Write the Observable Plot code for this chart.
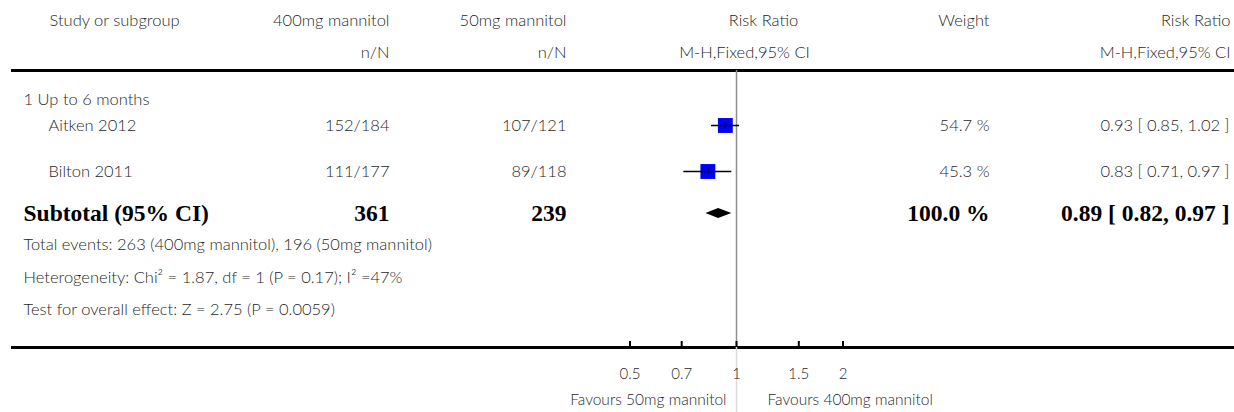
<!DOCTYPE html>
<html><head><meta charset="utf-8">
<script src="https://cdn.jsdelivr.net/npm/d3@7"></script>
<script src="https://cdn.jsdelivr.net/npm/@observablehq/plot@0.6"></script>
<style>html,body{margin:0;padding:0;background:#fff;}</style>
</head><body><div id="chart"></div>
<script>
// ---- data ----
const studies = ["Aitken 2012", "Bilton 2011"];
const events400 = [152, 111];
const total400 = [184, 177];
const events50 = [107, 89];
const total50 = [121, 118];
const riskRatio = [0.93, 0.83];
const ciLow = [0.85, 0.71];
const ciHigh = [1.02, 0.97];
const weights = [54.7, 45.3];
const pooledRR = [0.89, 0.82, 0.97]; // estimate, low, high
const pooledN = [361, 239];
const pooledWeight = 100.0;
const groupLabel = "1 Up to 6 months";
const footnotes = [
  "Total events: 263 (400mg mannitol), 196 (50mg mannitol)",
  "Heterogeneity: Chi\u00B2 = 1.87, df = 1 (P = 0.17); I\u00B2 =47%",
  "Test for overall effect: Z = 2.75 (P = 0.0059)"
];
const axisTicks = [0.5, 0.7, 1, 1.5, 2];
const favoursLabels = ["Favours 50mg mannitol", "Favours 400mg mannitol"];

// ---- layout ----
const W = 1234, H = 412;
const Y = {head1: 20, head2: 52, rule: 70, group: 99, studies: [125, 171], subtotal: 213,
           notes: [244, 277, 309], axis: 347, tickLabel: 374, favours: 400};
const SANS = "Lato, 'Gill Sans', 'Open Sans', sans-serif";
const SERIF = "'Liberation Serif', 'Times New Roman', serif";
const INK = "#1f1f1f";
const FS = 16.5, BFS = 23.5;

const fmt2 = d => d.toFixed(2);
const rows = studies.map((s, i) => ({
  study: s, y: Y.studies[i],
  a: `${events400[i]}/${total400[i]}`, b: `${events50[i]}/${total50[i]}`,
  rr: riskRatio[i], lo: ciLow[i], hi: ciHigh[i],
  w: `${weights[i].toFixed(1)} %`,
  ci: `${fmt2(riskRatio[i])} [ ${fmt2(ciLow[i])}, ${fmt2(ciHigh[i])} ]`
}));
const pooledRow = {y: Y.subtotal, rr: pooledRR[0], lo: pooledRR[1], hi: pooledRR[2]};
const diamond = [
  {x: pooledRow.lo, y1: pooledRow.y, y2: pooledRow.y},
  {x: pooledRow.rr, y1: pooledRow.y - 5, y2: pooledRow.y + 5},
  {x: pooledRow.hi, y1: pooledRow.y, y2: pooledRow.y}
];

function col(data, opts) {
  const {dx, anchor = "start", bold = false, size} = opts;
  return Plot.text(data, {
    y: opts.y, text: opts.text, frameAnchor: "left", dx, textAnchor: anchor,
    fontFamily: bold ? SERIF : SANS, fontWeight: bold ? "bold" : 300,
    fontSize: size ?? (bold ? BFS : FS), fill: bold ? "#000" : INK
  });
}
const one = (t, y) => [{t, y}];

const chart = Plot.plot({
  width: W, height: H,
  marginLeft: 0, marginRight: 0, marginTop: 0, marginBottom: H - Y.axis,
  style: {fontFamily: SANS, fontSize: FS + "px", color: INK, background: "#fff"},
  x: {type: "log", domain: [0.5, 2], range: [629.5, 842.5], axis: null},
  y: {type: "linear", domain: [0, H], range: [0, H], axis: null},
  marks: [
    // header
    col(one("Study or subgroup", Y.head1), {y: "y", text: "t", dx: 49}),
    col(one("400mg mannitol", Y.head1), {y: "y", text: "t", dx: 389, anchor: "end"}),
    col(one("n/N", Y.head2), {y: "y", text: "t", dx: 389, anchor: "end"}),
    col(one("50mg mannitol", Y.head1), {y: "y", text: "t", dx: 566, anchor: "end"}),
    col(one("n/N", Y.head2), {y: "y", text: "t", dx: 566, anchor: "end"}),
    col(one("Risk Ratio", Y.head1), {y: "y", text: "t", dx: 763, anchor: "middle"}),
    col(one("M-H,Fixed,95% CI", Y.head2), {y: "y", text: "t", dx: 744, anchor: "middle"}),
    col(one("Weight", Y.head1), {y: "y", text: "t", dx: 989, anchor: "end"}),
    col(one("Risk Ratio", Y.head1), {y: "y", text: "t", dx: 1230, anchor: "end"}),
    col(one("M-H,Fixed,95% CI", Y.head2), {y: "y", text: "t", dx: 1230, anchor: "end"}),
    // horizontal rules
    Plot.ruleY([Y.rule, Y.axis], {y: d => d, insetLeft: 11, stroke: "#000", strokeWidth: 3}),
    // line of no effect
    Plot.ruleX([1], {y1: Y.rule, y2: Y.axis, stroke: "#8f8f8f", strokeWidth: 1.5}),
    Plot.ruleX([1], {y1: Y.axis, y2: H, stroke: "#dcdcdc", strokeWidth: 1.5}),
    // group label
    col(one(groupLabel, Y.group), {y: "y", text: "t", dx: 23}),
    // study rows
    col(rows, {y: "y", text: "study", dx: 48}),
    col(rows, {y: "y", text: "a", dx: 389, anchor: "end"}),
    col(rows, {y: "y", text: "b", dx: 566, anchor: "end"}),
    col(rows, {y: "y", text: "w", dx: 989, anchor: "end"}),
    col(rows, {y: "y", text: "ci", dx: 1229, anchor: "end"}),
    Plot.dot(rows, {x: "rr", y: "y", symbol: "square", r: 8.4, fill: "#0000ff", stroke: null}),
    Plot.ruleY(rows, {y: "y", x1: "lo", x2: "hi", stroke: "#000", strokeWidth: 1.5}),
    Plot.ruleX(rows, {x: "rr", y1: d => d.y - 3, y2: d => d.y + 3, stroke: "#000", strokeWidth: 1}),
    // subtotal
    col(one("Subtotal (95% CI)", Y.subtotal), {y: "y", text: "t", dx: 23, bold: true}),
    col(one(String(pooledN[0]), Y.subtotal), {y: "y", text: "t", dx: 389, anchor: "end", bold: true}),
    col(one(String(pooledN[1]), Y.subtotal), {y: "y", text: "t", dx: 566, anchor: "end", bold: true}),
    col(one(pooledWeight.toFixed(1) + " %", Y.subtotal), {y: "y", text: "t", dx: 989, anchor: "end", bold: true}),
    col(one(`${fmt2(pooledRR[0])} [ ${fmt2(pooledRR[1])}, ${fmt2(pooledRR[2])} ]`, Y.subtotal), {y: "y", text: "t", dx: 1229, anchor: "end", bold: true}),
    Plot.areaY(diamond, {x: "x", y1: "y1", y2: "y2", fill: "#000", curve: "linear"}),
    // footnotes
    col(footnotes.map((t, i) => ({t, y: Y.notes[i]})), {y: "y", text: "t", dx: 23}),
    // axis: ticks and tick labels through the x scale
    Plot.ruleX(axisTicks, {x: d => d, y1: Y.axis - 6, y2: Y.axis, stroke: "#000", strokeWidth: 2}),
    Plot.text(axisTicks, {x: d => d, y: () => Y.tickLabel, text: d => String(d),
      fontFamily: SANS, fontWeight: 300, fontSize: 15, fill: INK}),
    Plot.text([favoursLabels[0]], {x: () => 1, y: () => Y.favours, text: d => d, textAnchor: "end", dx: -10,
      fontFamily: SANS, fontWeight: 300, fontSize: 15.5, fill: INK}),
    Plot.text([favoursLabels[1]], {x: () => 1, y: () => Y.favours, text: d => d, textAnchor: "start", dx: 31,
      fontFamily: SANS, fontWeight: 300, fontSize: 15.5, fill: INK})
  ]
});
document.getElementById("chart").appendChild(chart);
</script>
</body></html>
